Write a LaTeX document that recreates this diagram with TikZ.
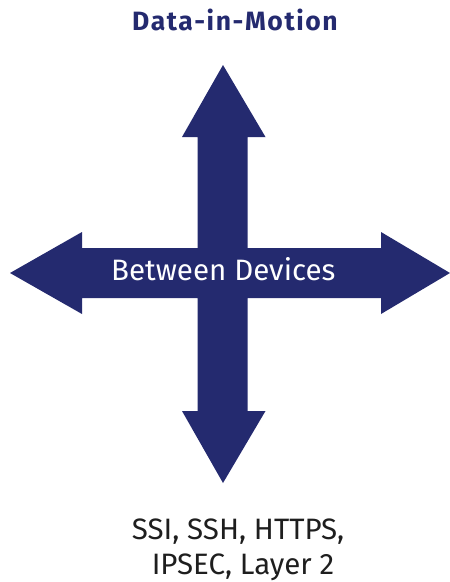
\documentclass[tikz,border=0pt]{standalone}
\usepackage{fontspec}
\setmainfont{Fira Sans}
\definecolor{navy}{HTML}{242A6F}
\definecolor{ink}{HTML}{1E1E1E}
\begin{document}
\begin{tikzpicture}[x=1pt, y=-1pt]
  \useasboundingbox (0,0) rectangle (450,582);
  % four-way arrow
  \fill[navy] (223,65) -- (265.5,137) -- (247.5,137) -- (247.5,248)
    -- (381,248) -- (381,232) -- (450,273) -- (381,314) -- (381,298)
    -- (247.5,298) -- (247.5,411) -- (265.5,411) -- (223,483)
    -- (182,411) -- (197.5,411) -- (197.5,298) -- (82,298) -- (82,314)
    -- (10,273) -- (82,232) -- (82,248) -- (197.5,248) -- (197.5,137)
    -- (182,137) -- cycle;
  \node[anchor=base, text=navy, font=\fontsize{26.5}{30}\selectfont\bfseries\addfontfeatures{LetterSpace=6}] (title) at (235,30) {Data-in-Motion};
  \node[anchor=base, text=white, font=\fontsize{29.5}{34}\selectfont] (devices) at (223.3,280.7) {Between Devices};
  \node[anchor=base, text=ink, font=\fontsize{29.5}{34}\selectfont] (proto1) at (238,539) {SSI, SSH, HTTPS,};
  \node[anchor=base, text=ink, font=\fontsize{29.5}{34}\selectfont] (proto2) at (243,574) {IPSEC, Layer 2};
\end{tikzpicture}
\end{document}
